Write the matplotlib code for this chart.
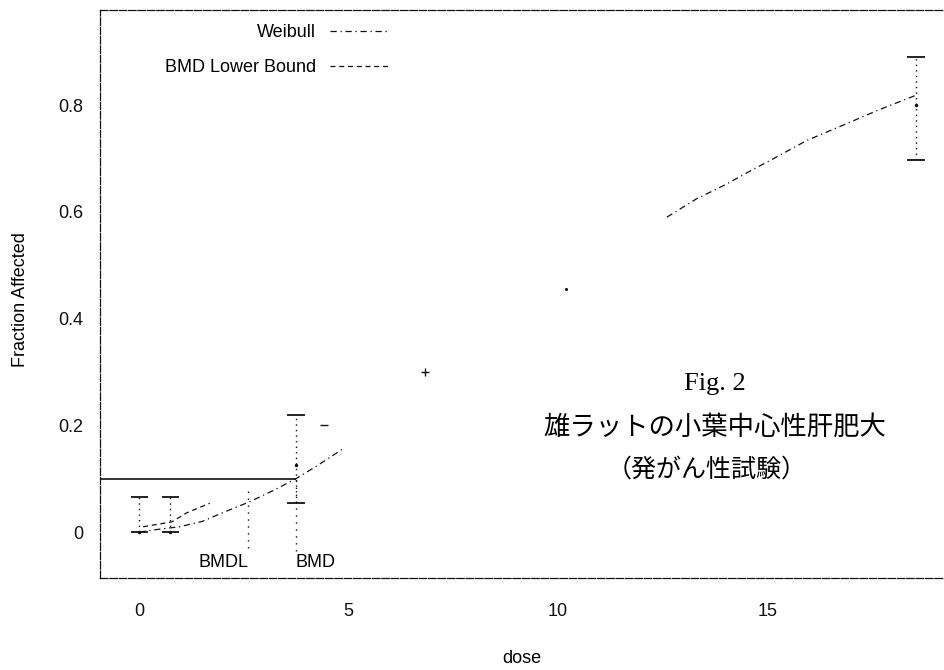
import numpy as np
import matplotlib
matplotlib.use("Agg")
import matplotlib.pyplot as plt

# observed groups (mean and confidence limits)
obs_dose = [0.0, 0.74, 3.74, 18.55]
obs_frac = [0.0, 0.0, 0.125, 0.80]
obs_low = [0.0, 0.0, 0.055, 0.697]
obs_high = [0.066, 0.066, 0.22, 0.89]

# stray marks visible in the scan
stray_dose = [4.41, 6.82]
stray_frac = [0.20, 0.30]
stray_mark = ["_", "+"]

# fitted Weibull curve, visible pieces
weib_lo_dose = [0.0, 0.33, 0.96, 1.5, 1.92, 2.64, 3.2, 3.74, 4.3, 4.9]
weib_lo_frac = [0.0, 0.004, 0.01, 0.02, 0.034, 0.057, 0.078, 0.10, 0.127, 0.158]
weib_mid_dose = [10.2]
weib_mid_frac = [0.455]
weib_hi_dose = [12.6, 13.3, 14.0, 14.6, 15.06, 15.95, 16.8, 17.6, 18.6]
weib_hi_frac = [0.59, 0.624, 0.651, 0.677, 0.696, 0.734, 0.762, 0.789, 0.82]

# BMD lower bound curve
lb_dose = [0.09, 0.77, 1.13, 1.68]
lb_frac = [0.01, 0.019, 0.036, 0.054]

bmr = 0.1
bmd = 3.74
bmdl = 2.6

xticks = [0, 5, 10, 15]
yticks = [0, 0.2, 0.4, 0.6, 0.8]
ytick_labels = ["0", "0.2", "0.4", "0.6", "0.8"]

ink = "#111111"
sans = "Liberation Sans"
fs = 13

fig = plt.figure(figsize=(9.45, 6.70), dpi=100)
ax = fig.add_axes([100 / 945, 1 - 578 / 670, 1 - 100 / 945, (578 - 10) / 670])
ax.set_xlim(-0.94, 19.24)
ax.set_ylim(-0.086, 0.978)

# frame, dashed like the scan
for side in ["left", "bottom", "top"]:
    ax.spines[side].set_linestyle((0, (6, 1.5)))
    ax.spines[side].set_linewidth(0.9)
    ax.spines[side].set_color(ink)
ax.spines["right"].set_visible(False)

# error bars
for d, lo, hi in zip(obs_dose, obs_low, obs_high):
    ax.vlines(d, lo, hi, colors=ink, linestyles=(0, (1, 3)), linewidth=1.0)
    ax.hlines([lo, hi], d - 0.21, d + 0.21, colors=ink, linewidth=1.3)
ax.plot(obs_dose, obs_frac, linestyle="none", marker="o", markersize=1.5, color=ink)

for d, f, m in zip(stray_dose, stray_frac, stray_mark):
    ax.plot(d, f, marker=m, markersize=6, color=ink, markeredgewidth=1.0)

# model curves
ax.plot(weib_lo_dose, weib_lo_frac, color=ink, linewidth=0.9,
        linestyle=(0, (5, 3, 1, 3)), label="Weibull")
ax.plot(weib_mid_dose, weib_mid_frac, marker="o", markersize=1.2, color=ink)
ax.plot(weib_hi_dose, weib_hi_frac, color=ink, linewidth=0.9, linestyle=(0, (5, 3, 1, 3)))
ax.plot(lb_dose, lb_frac, color=ink, linewidth=0.9, linestyle=(0, (4, 3)),
        label="BMD Lower Bound")

# BMR / BMD / BMDL markers
ax.hlines(bmr, ax.get_xlim()[0], bmd, colors=ink, linewidth=1.2)
ax.vlines(bmd, -0.035, bmr, colors=ink, linestyles=(0, (1, 4)), linewidth=1.0)
ax.vlines(bmdl, -0.03, 0.085, colors=ink, linestyles=(0, (1, 4)), linewidth=1.0)
ax.text(bmdl, -0.057, "BMDL", ha="right", va="center", fontsize=fs, family=sans)
ax.text(bmd, -0.057, "BMD", ha="left", va="center", fontsize=fs, family=sans)

ax.set_xticks(xticks)
ax.set_yticks(yticks)
ax.set_yticklabels(ytick_labels)
ax.tick_params(length=0, labelsize=fs, colors=ink)
ax.tick_params(axis="x", pad=18)
ax.tick_params(axis="y", pad=12)
for lab in ax.get_xticklabels() + ax.get_yticklabels():
    lab.set_family(sans)

ax.set_xlabel("dose", fontsize=fs, family=sans)
ax.set_ylabel("Fraction Affected", fontsize=fs, family=sans)
ax.xaxis.set_label_coords(0.499, -0.127)
ax.yaxis.set_label_coords(-0.084, 0.49)

leg = ax.legend(loc="upper right", bbox_to_anchor=(390 / 945, 1 - 24 / 670),
                bbox_transform=fig.transFigure, frameon=False, markerfirst=False,
                fontsize=fs, handlelength=3.3, handletextpad=0.8,
                labelspacing=1.0, borderpad=0, borderaxespad=0)
for t in leg.get_texts():
    t.set_family(sans)

# figure caption inside the plot
ax.text(13.74, 0.277, "Fig. 2", ha="center", va="center", fontsize=19,
        family="Liberation Serif")
ax.text(13.74, 0.196, "雄ラットの小葉中心性肝肥大", ha="center", va="center",
        fontsize=19, family=["Noto Sans CJK JP", "DejaVu Sans"])
ax.text(13.55, 0.117, "（発がん性試験）", ha="center", va="center",
        fontsize=18, family=["Noto Sans CJK JP", "DejaVu Sans"])

fig.savefig("out.png", dpi=100)
